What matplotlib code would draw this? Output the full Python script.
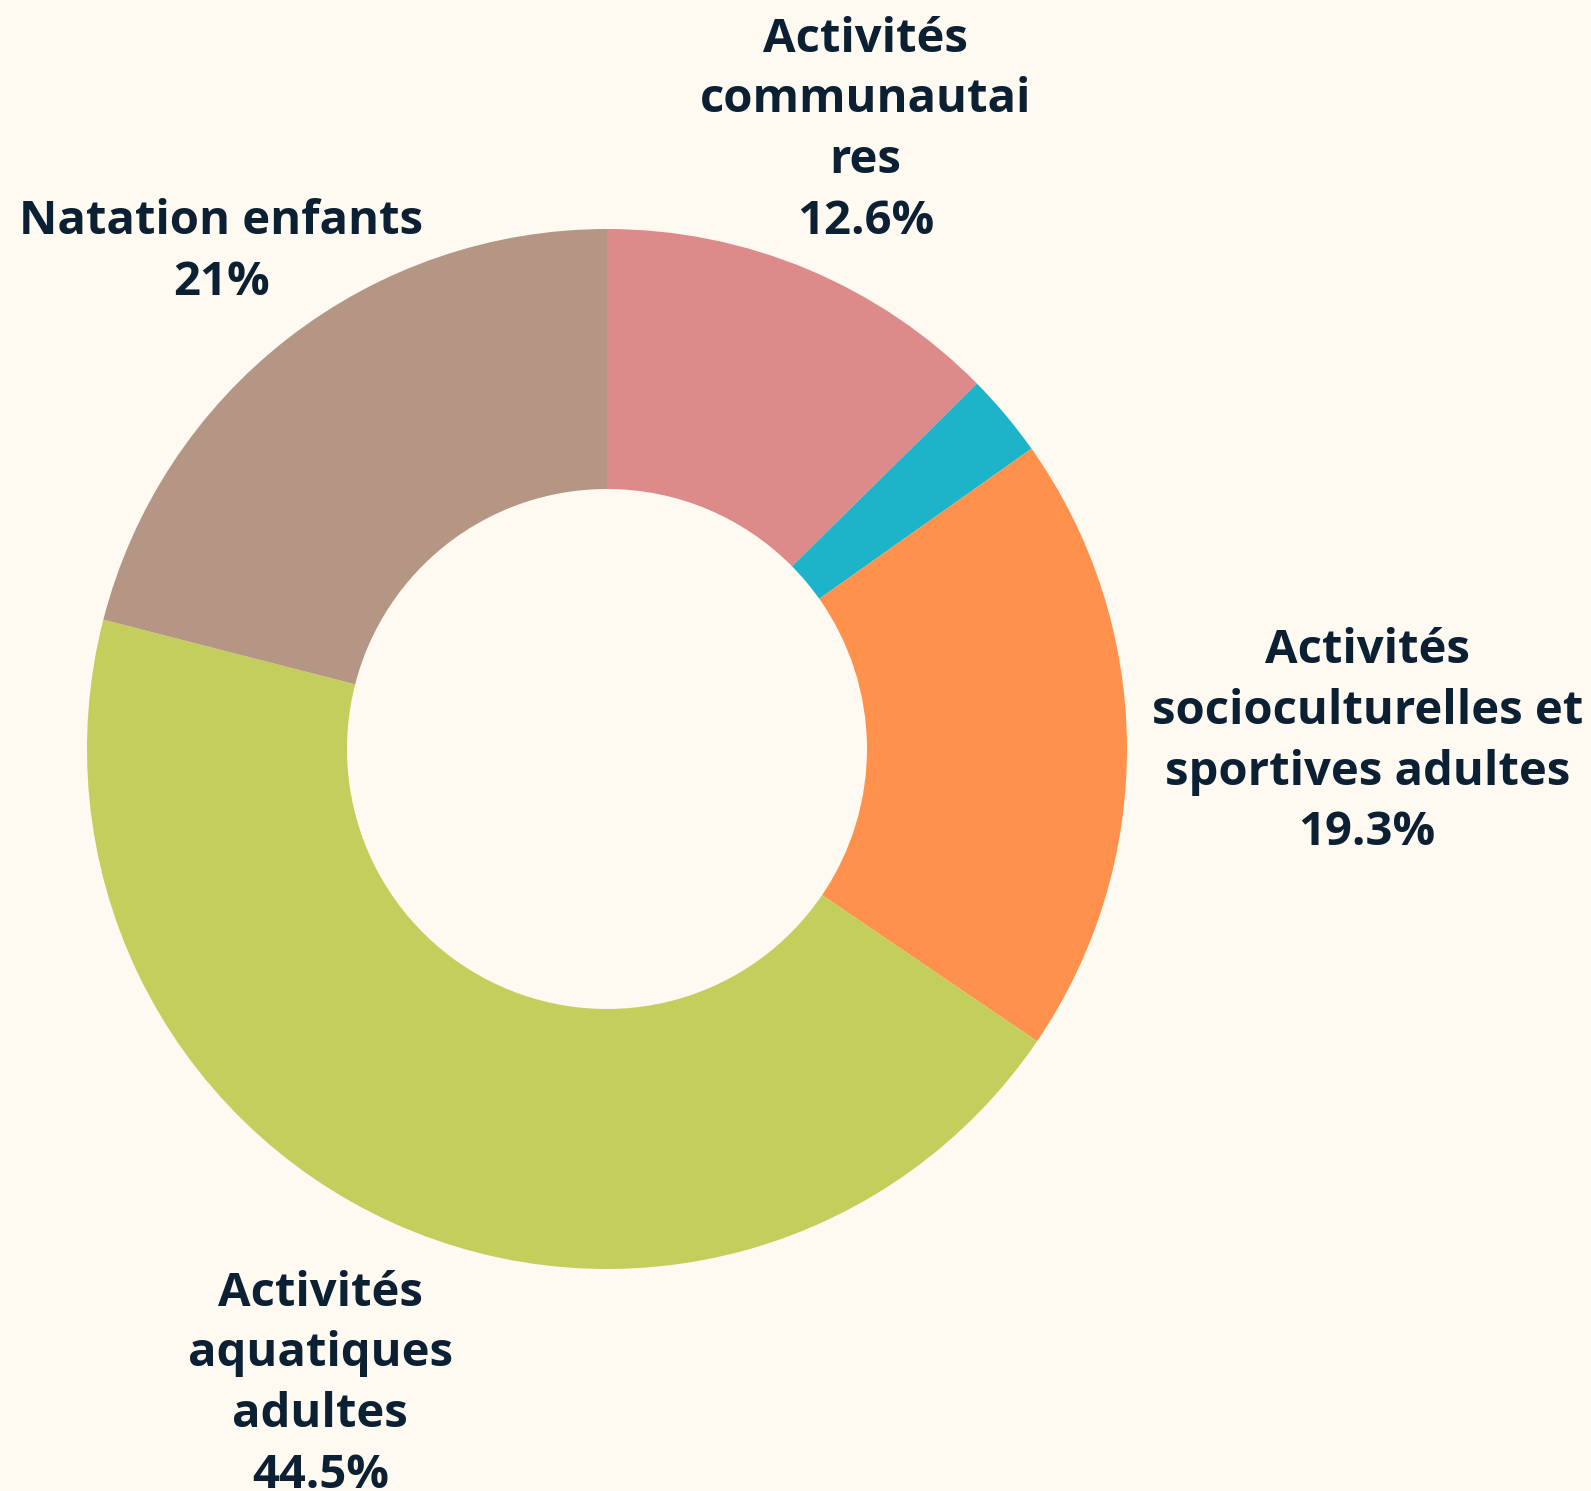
import matplotlib.pyplot as plt
import numpy as np

labels = ["Activités\ncommunautai\nres", "", "Activités\nsocioculturelles et\nsportives adultes",
          "Activités\naquatiques\nadultes", "Natation enfants"]
values = [12.6, 2.6, 19.3, 44.5, 21.0]
pct_text = ["12.6%", "", "19.3%", "44.5%", "21%"]
colors = ["#DD8A8B", "#1DB3C9", "#FF914D", "#C4CE5C", "#B59684"]
# distance of each label from the centre (outer radius = 1)
label_dist = [1.29, 0, 1.462, 1.34, 1.21]

bg = "#FEF9F1"
txt_color = "#0C2033"

fig = plt.figure(figsize=(15.91, 14.91), dpi=100, facecolor=bg)
ax = fig.add_axes([0, 0, 1, 1])
ax.set_facecolor(bg)

wedges, _ = ax.pie(values, startangle=90, counterclock=False, radius=1,
                   colors=colors, wedgeprops=dict(width=0.5, linewidth=0))

for w, lab, pct, d in zip(wedges, labels, pct_text, label_dist):
    if not lab:
        continue
    ang = np.deg2rad((w.theta1 + w.theta2) / 2)
    ax.text(d * np.cos(ang), d * np.sin(ang), lab + "\n" + pct,
            ha="center", va="center", fontsize=34, fontweight="bold",
            family=["Open Sans", "DejaVu Sans"], color=txt_color, linespacing=1.38)

ax.set_aspect("equal")
ax.set_xlim(-607 / 520, (1591 - 607) / 520)
ax.set_ylim(-(1491 - 749) / 520, 749 / 520)
ax.axis("off")

plt.savefig("out.png", dpi=100, facecolor=bg)
